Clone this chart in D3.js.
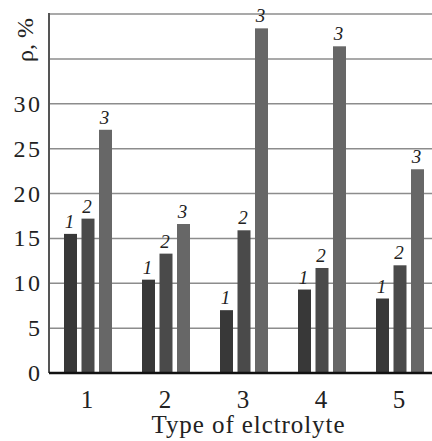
<!DOCTYPE html>
<html>
<head>
<meta charset="utf-8">
<script src="https://cdn.jsdelivr.net/npm/d3@7"></script>
<style>
  body { margin: 0; background: #fff; }
  text { font-family: "Times New Roman", Times, "Liberation Serif", serif; fill: #222; }
</style>
</head>
<body>
<div id="chart"></div>
<script>
// electrolyte types on the x axis
const types = ["1", "2", "3", "4", "5"];
// series 1, 2, 3
const seriesNames = ["1", "2", "3"];
const series1 = [15.5, 10.4, 7.0, 9.3, 8.3];
const series2 = [17.2, 13.3, 15.9, 11.7, 12.0];
const series3 = [27.1, 16.6, 38.4, 36.4, 22.7];
const yTicks = [0, 5, 10, 15, 20, 25, 30];
const yGrid = [5, 10, 15, 20, 25, 30, 35, 40];

const colors = ["#383838", "#4a4a4a", "#676767"];

let w = 432, h = 441;
let mLeft = 49, mBottom = 373, mTop = 14;

const svg = d3.select("#chart").append("svg")
    .attr("width", w)
    .attr("height", h);

const y = d3.scaleLinear().domain([0, 40]).range([mBottom, mTop]);
const x0 = d3.scaleBand().domain(types).range([mLeft, mLeft + 5 * 78]).padding(0);
const x1 = d3.scaleBand().domain(seriesNames).range([-24, 24]).paddingInner(0.257).paddingOuter(0);

// gridlines
svg.append("g").selectAll("line")
    .data(yGrid)
    .enter().append("line")
    .attr("x1", mLeft)
    .attr("x2", w)
    .attr("y1", d => y(d))
    .attr("y2", d => y(d))
    .attr("stroke", "#8c8c8c")
    .attr("stroke-width", 1.5);

// bars
const rows = types.map((t, i) => ({type: t, vals: [series1[i], series2[i], series3[i]]}));

const groups = svg.append("g").selectAll("g")
    .data(rows)
    .enter().append("g")
    .attr("transform", d => "translate(" + (x0(d.type) + x0.bandwidth() / 2) + ",0)");

groups.selectAll("rect")
    .data(d => d.vals.map((v, k) => ({k: k, v: v})))
    .enter().append("rect")
    .attr("x", d => x1(seriesNames[d.k]))
    .attr("width", x1.bandwidth())
    .attr("y", d => y(d.v))
    .attr("height", d => mBottom - y(d.v))
    .attr("fill", d => colors[d.k]);

groups.selectAll("text")
    .data(d => d.vals.map((v, k) => ({k: k, v: v})))
    .enter().append("text")
    .attr("x", d => x1(seriesNames[d.k]) + x1.bandwidth() / 2 - 1)
    .attr("y", d => y(d.v) - 6)
    .attr("text-anchor", "middle")
    .attr("font-style", "italic")
    .attr("font-size", 19)
    .text(d => seriesNames[d.k]);

// left axis line
svg.append("line")
    .attr("x1", mLeft).attr("x2", mLeft)
    .attr("y1", mTop - 1).attr("y2", mBottom)
    .attr("stroke", "#555")
    .attr("stroke-width", 2);

// baseline
svg.append("line")
    .attr("x1", mLeft).attr("x2", w)
    .attr("y1", mBottom).attr("y2", mBottom)
    .attr("stroke", "#111")
    .attr("stroke-width", 2.5);

// y tick labels
svg.append("g").selectAll("text")
    .data(yTicks)
    .enter().append("text")
    .attr("x", mLeft - 9)
    .attr("y", d => y(d) + 8)
    .attr("text-anchor", "end")
    .attr("font-size", 24)
    .attr("textLength", d => String(d).length * 13.2)
    .text(d => d);

// x tick labels
svg.append("g").selectAll("text")
    .data(types)
    .enter().append("text")
    .attr("x", d => x0(d) + x0.bandwidth() / 2 - 1)
    .attr("y", 408)
    .attr("text-anchor", "middle")
    .attr("font-size", 25)
    .text(d => d);

// axis titles
svg.append("text")
    .attr("x", 248)
    .attr("y", 433)
    .attr("text-anchor", "middle")
    .attr("font-size", 25)
    .attr("textLength", 193)
    .text("Type of elctrolyte");

svg.append("text")
    .attr("transform", "translate(33,40) rotate(-90)")
    .attr("text-anchor", "middle")
    .attr("font-size", 24)
    .text("ρ, %");
</script>
</body>
</html>
